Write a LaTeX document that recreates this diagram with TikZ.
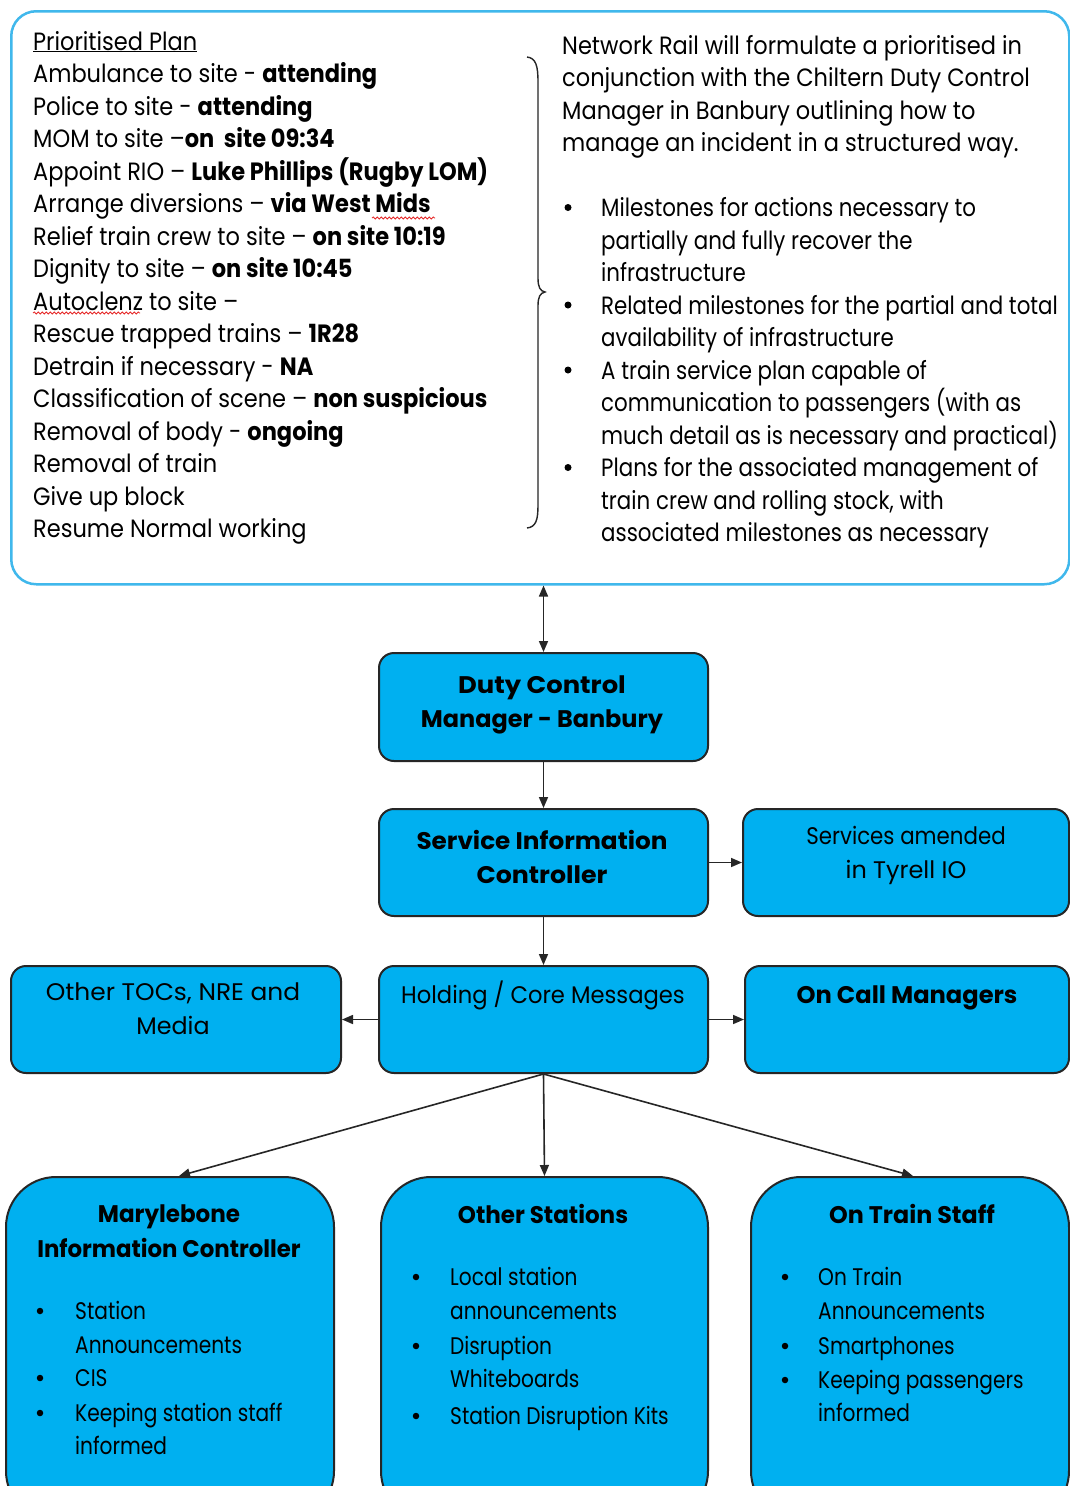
\documentclass[tikz,border=0pt]{standalone}
\usepackage{fontspec}
\setmainfont{Poppins}[FakeStretch=0.9]
\newfontfamily\boxf{Poppins}[FakeStretch=0.78]
\newfontfamily\boxn{Poppins}[FakeStretch=0.84]
\newfontfamily\bulf{Poppins}[FakeStretch=0.855]
\usetikzlibrary{arrows.meta,decorations.pathmorphing,calc}
\definecolor{boxblue}{RGB}{0,176,240}
\definecolor{frameblue}{RGB}{64,184,236}
\definecolor{spellred}{RGB}{230,40,40}
\newcommand\fsTop{\fontsize{25}{32.5}\selectfont}
\newcommand\fsBox{\fontsize{24}{30}\selectfont}
\newcommand\hs[2]{\scalebox{#1}[1]{#2}}
\tikzset{
  frame/.style={draw=frameblue, line width=2.5pt, fill=white, rounded corners=25pt, inner sep=0pt},
  bluebox/.style={draw=black!85, line width=2pt, fill=boxblue, rounded corners=15pt, inner sep=0pt},
  roundbox/.style={draw=black!85, line width=2pt, fill=boxblue, rounded corners=50pt, inner sep=0pt},
  txt/.style={anchor=base west, inner sep=0pt, font=\fsTop},
  rtxt/.style={anchor=base west, inner sep=0pt, font=\bulf\fsTop},
  btxt/.style={anchor=base west, inner sep=0pt, font=\boxn\fsBox},
  ctxt/.style={anchor=base, inner sep=0pt, font=\boxf\fsBox},
  dot/.style={circle, fill=black, inner sep=0pt, minimum size=7pt},
  sdot/.style={circle, fill=black, inner sep=0pt, minimum size=6.5pt},
  arr/.style={line width=1.6pt, draw=black!85, -{Triangle[length=11pt,width=9pt]}},
  dblarr/.style={line width=1.6pt, draw=black!85, {Triangle[length=11pt,width=9pt]}-{Triangle[length=11pt,width=9pt]}},
  spell/.style={draw=spellred, line width=0.8pt, decorate, decoration={snake, segment length=4pt, amplitude=1pt}}
}
\begin{document}
\begin{tikzpicture}[x=1pt,y=-1pt]
\useasboundingbox (0,0) rectangle (1070,1486);
\clip (0,0) rectangle (1070,1486);
\fill[white] (0,0) rectangle (1070,1486);

% top frame
\node[frame, minimum width=1058pt, minimum height=573pt, anchor=north west] (top) at (10,10) {};

% left list
\foreach \t [count=\i from 0] in {
  {\underline{Prioritised Plan}},
  {Ambulance to site - \textbf{attending}},
  {Police to site - \textbf{attending}},
  {MOM to site –\textbf{on\ \ site 09:34}},
  {Appoint RIO – \textbf{Luke Phillips (Rugby LOM)}},
  {Arrange diversions – \textbf{via West Mids}},
  {Relief train crew to site – \textbf{on site 10:19}},
  {Dignity to site – \textbf{on site 10:45}},
  {Autoclenz to site –},
  {Rescue trapped trains – \textbf{1R28}},
  {Detrain if necessary - \textbf{NA}},
  {Classification of scene – \textbf{non suspicious}},
  {Removal of body - \textbf{ongoing}},
  {Removal of train},
  {Give up block},
  {Resume Normal working}}
  \node[txt] (L\i) at (33, 50+32.5*\i) {\t};

% spell-check underlines
\draw[spell] (372,218) -- (435,218);
\draw[spell] (33,313) -- (140,313);
\draw[spell] (818,1359) -- (952,1359);

% brace
\draw[line width=1.4pt, black!85] (527,57) .. controls (536,58) and (538,66) .. (538,82) -- (538,278)
  .. controls (538,287) and (540,291) .. (545,292) .. controls (540,293) and (538,297) .. (538,306)
  -- (538,505) .. controls (538,520) and (536,527) .. (527,528);

% right paragraph
\foreach \t [count=\i from 0] in {
  {Network Rail will formulate a prioritised in},
  {conjunction with the Chiltern Duty Control},
  {Manager in Banbury outlining how to},
  {manage an incident in a structured way.}}
  \node[txt] (P\i) at (562, 54+32.5*\i) {\t};

% right bullets
\foreach \k [count=\i] in {5,8,10,13}
  \node[dot] (B\i) at (568, 45+32.5*\k) {};
\foreach \t/\k [count=\i] in {
  {Milestones for actions necessary to}/5,
  {partially and fully recover the}/6,
  {infrastructure}/7,
  {Related milestones for the partial and total}/8,
  {availability of infrastructure}/9,
  {A train service plan capable of}/10,
  {communication to passengers (with as}/11,
  {much detail as is necessary and practical)}/12,
  {Plans for the associated management of}/13,
  {train crew and rolling stock, with}/14,
  {associated milestones as necessary}/15}
  \node[rtxt] (R\i) at (601, 54+32.5*\k) {\t};

% middle boxes
\node[bluebox, minimum width=329pt, minimum height=108pt, anchor=north west] (dcm) at (378,652) {};
\node[bluebox, minimum width=329pt, minimum height=107pt, anchor=north west] (sic) at (378,808) {};
\node[bluebox, minimum width=326pt, minimum height=107pt, anchor=north west] (svc) at (742,808) {};
\node[bluebox, minimum width=329pt, minimum height=107pt, anchor=north west] (hold) at (378,965) {};
\node[bluebox, minimum width=330pt, minimum height=107pt, anchor=north west] (toc) at (10,965) {};
\node[bluebox, minimum width=324pt, minimum height=107pt, anchor=north west] (oncall) at (744,965) {};

\node[ctxt] (dcm1) at (542,693) {\hs{1.38}{\textbf{Duty Control}}};
\node[ctxt] (dcm2) at (542,727) {\hs{1.28}{\textbf{Manager - Banbury}}};
\node[ctxt] (sic1) at (542,849) {\hs{1.32}{\textbf{Service Information}}};
\node[ctxt] (sic2) at (542,883) {\hs{1.35}{\textbf{Controller}}};
\node[ctxt] (svc1) at (906,844) {\hs{1.14}{Services amended}};
\node[ctxt] (svc2) at (906,878) {\hs{1.28}{in Tyrell IO}};
\node[ctxt] (hold1) at (543,1003) {\hs{1.21}{Holding / Core Messages}};
\node[ctxt] (toc1) at (173,1000) {\hs{1.33}{Other TOCs, NRE and}};
\node[ctxt] (toc2) at (173,1034) {\hs{1.27}{Media}};
\node[ctxt] (onc1) at (907,1003) {\hs{1.29}{\textbf{On Call Managers}}};

% bottom boxes
\node[roundbox, minimum width=328pt, minimum height=344pt, anchor=north west] (mary) at (5,1176) {};
\node[roundbox, minimum width=327pt, minimum height=344pt, anchor=north west] (oth) at (380,1176) {};
\node[roundbox, minimum width=318pt, minimum height=344pt, anchor=north west] (otr) at (750,1176) {};

\node[ctxt] (m1) at (169,1222) {\hs{1.23}{\textbf{Marylebone}}};
\node[ctxt] (m2) at (169,1257) {\hs{1.22}{\textbf{Information Controller}}};
\foreach \y [count=\i] in {1311,1378,1413}
  \node[sdot] (mb\i) at (40,\y) {};
\foreach \t/\y [count=\i] in {Station/1319, Announcements/1353, CIS/1386, {Keeping station staff}/1421, informed/1454}
  \node[btxt] (mt\i) at (75,\y) {\t};

\node[ctxt] (o1) at (543,1223) {\hs{1.23}{\textbf{Other Stations}}};
\foreach \y [count=\i] in {1277,1346,1416}
  \node[sdot] (ob\i) at (416,\y) {};
\foreach \t/\y [count=\i] in {{Local station}/1285, announcements/1319, Disruption/1354, Whiteboards/1387, {Station Disruption Kits}/1424}
  \node[btxt] (ot\i) at (450,\y) {\t};

\node[ctxt] (t1) at (912,1223) {\hs{1.27}{\textbf{On Train Staff}}};
\foreach \y [count=\i] in {1277,1346,1380}
  \node[sdot] (tb\i) at (785,\y) {};
\foreach \t/\y [count=\i] in {{On Train}/1285, Announcements/1319, Smartphones/1354, {Keeping passengers}/1388, informed/1421}
  \node[btxt] (tt\i) at (818,\y) {\t};

% connectors
\draw[dblarr] (top.south -| dcm.north) -- (dcm.north);
\draw[arr] (dcm.south) -- (sic.north);
\draw[arr] (sic.east) -- (svc.west);
\draw[arr] (sic.south) -- (hold.north);
\draw[arr] (hold.west) -- (toc.east);
\draw[arr] (hold.east) -- (oncall.west);
\draw[arr] (hold.south) -- ($(mary.north)+(9,0)$);
\draw[arr] (hold.south) -- (oth.north);
\draw[arr] (hold.south) -- ($(otr.north)+(3,0)$);
\end{tikzpicture}
\end{document}
